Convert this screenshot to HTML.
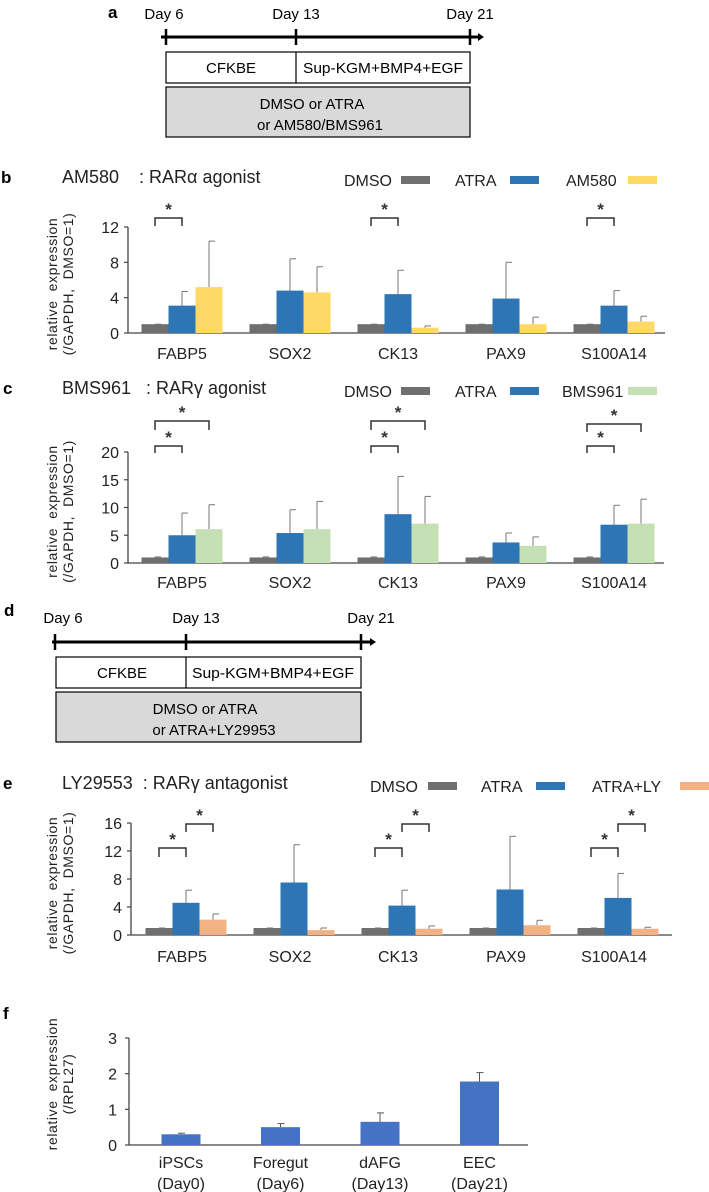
<!DOCTYPE html>
<html><head><meta charset="utf-8"><style>
html,body{margin:0;padding:0;background:#fff;}
svg{display:block;font-family:"Liberation Sans",sans-serif;}
text{white-space:pre;}
</style></head><body>
<svg id="fig" width="709" height="1192" viewBox="0 0 709 1192" xmlns="http://www.w3.org/2000/svg">
<!-- Panel a -->
<g>
<text x="108" y="18" font-size="17" font-weight="bold">a</text>
<text x="164" y="19" font-size="15" text-anchor="middle">Day 6</text>
<text x="296" y="19" font-size="15" text-anchor="middle">Day 13</text>
<text x="470" y="19" font-size="15" text-anchor="middle">Day 21</text>
<line x1="161" y1="37" x2="478" y2="37" stroke="#000" stroke-width="3"/>
<polygon points="478,33 484,37 478,41" fill="#000"/>
<line x1="166" y1="29" x2="166" y2="45" stroke="#000" stroke-width="2.5"/>
<line x1="296" y1="29" x2="296" y2="45" stroke="#000" stroke-width="2.5"/>
<line x1="470" y1="29" x2="470" y2="45" stroke="#000" stroke-width="2.5"/>
<rect x="166" y="52" width="304" height="31" fill="#fff" stroke="#000" stroke-width="1.2"/>
<line x1="296" y1="52" x2="296" y2="83" stroke="#000" stroke-width="1.2"/>
<text x="231" y="73" font-size="15" text-anchor="middle">CFKBE</text>
<text x="383" y="73" font-size="15" text-anchor="middle" textLength="160" lengthAdjust="spacingAndGlyphs">Sup-KGM+BMP4+EGF</text>
<rect x="166" y="87" width="304" height="50" fill="#d9d9d9" stroke="#000" stroke-width="1.2"/>
<text x="312" y="109" font-size="15" text-anchor="middle">DMSO or ATRA</text>
<text x="320" y="130" font-size="15" text-anchor="middle">or AM580/BMS961</text>
</g>
<!-- Panel d -->
<g>
<text x="4" y="616" font-size="17" font-weight="bold">d</text>
<text x="63" y="623" font-size="15" text-anchor="middle">Day 6</text>
<text x="196" y="623" font-size="15" text-anchor="middle">Day 13</text>
<text x="371" y="623" font-size="15" text-anchor="middle">Day 21</text>
<line x1="52" y1="642" x2="370" y2="642" stroke="#000" stroke-width="3"/>
<polygon points="370,638 376,642 370,646" fill="#000"/>
<line x1="55" y1="634" x2="55" y2="650" stroke="#000" stroke-width="2.5"/>
<line x1="186" y1="634" x2="186" y2="650" stroke="#000" stroke-width="2.5"/>
<line x1="361" y1="634" x2="361" y2="650" stroke="#000" stroke-width="2.5"/>
<rect x="56" y="657" width="305" height="31" fill="#fff" stroke="#000" stroke-width="1.2"/>
<line x1="186" y1="657" x2="186" y2="688" stroke="#000" stroke-width="1.2"/>
<text x="122" y="678" font-size="15" text-anchor="middle">CFKBE</text>
<text x="273" y="678" font-size="15" text-anchor="middle" textLength="162" lengthAdjust="spacingAndGlyphs">Sup-KGM+BMP4+EGF</text>
<rect x="56" y="692" width="305" height="50" fill="#d9d9d9" stroke="#000" stroke-width="1.2"/>
<text x="205" y="714" font-size="15" text-anchor="middle">DMSO or ATRA</text>
<text x="214" y="735" font-size="15" text-anchor="middle">or ATRA+LY29953</text>
</g>
<g id="charts"></g>
</svg>
<script>
// ---- Chart data ----
const genes = ["FABP5","SOX2","CK13","PAX9","S100A14"];
// Panel b
const bDMSO = [1,1,1,1,1];
const bDMSOErr = [1,1,1,1,1];
const bATRA = [3.1,4.8,4.4,3.9,3.1];
const bATRAErr = [4.7,8.4,7.1,8.0,4.8];
const bAM580 = [5.2,4.6,0.6,1.0,1.3];
const bAM580Err = [10.4,7.5,0.8,1.8,1.9];
const bTicks = [0,4,8,12];
// Panel c
const cDMSO = [1,1,1,1,1];
const cDMSOErr = [1.1,1.1,1.1,1.1,1.1];
const cATRA = [5.0,5.4,8.8,3.7,6.9];
const cATRAErr = [9.0,9.6,15.6,5.4,10.4];
const cBMS = [6.1,6.1,7.1,3.1,7.1];
const cBMSErr = [10.5,11.1,12.0,4.7,11.5];
const cTicks = [0,5,10,15,20];
// Panel e
const eDMSO = [1,1,1,1,1];
const eDMSOErr = [1,1,1,1,1];
const eATRA = [4.6,7.5,4.2,6.5,5.3];
const eATRAErr = [6.4,12.9,6.4,14.1,8.8];
const eLY = [2.2,0.7,0.9,1.4,0.9];
const eLYErr = [3.0,1.0,1.3,2.1,1.1];
const eTicks = [0,4,8,12,16];
// Panel f
const fCats = ["iPSCs","Foregut","dAFG","EEC"];
const fSub = ["(Day0)","(Day6)","(Day13)","(Day21)"];
const fVals = [0.3,0.5,0.65,1.78];
const fErr = [0.33,0.6,0.9,2.03];
const fTicks = [0,1,2,3];

const NS="http://www.w3.org/2000/svg";
const root=document.getElementById('charts');
function el(tag,attrs,parent){const e=document.createElementNS(NS,tag);for(const k in attrs)e.setAttribute(k,attrs[k]);(parent||root).appendChild(e);return e;}
function txt(s,attrs,parent){const t=el('text',attrs,parent);t.textContent=s;return t;}

function ylabel(g,cx,cy,l1,l2){
  const t1=txt(l1,{x:0,y:0,'font-size':14,'letter-spacing':'0.6','text-anchor':'middle',transform:`translate(${cx-8},${cy}) rotate(-90)`,fill:'#222'},g);
  
  
  const t2=txt(l2,{x:0,y:0,'font-size':14,'letter-spacing':'0.6','text-anchor':'middle',transform:`translate(${cx+8},${cy}) rotate(-90)`,fill:'#222'},g);
  
  
}

function grouped(cfg){
  const g=el('g',{});
  
  
  const ymax=cfg.ticks[cfg.ticks.length-1];
  const y=v=>cfg.y0-(v/ymax)*(cfg.y0-cfg.yTop);
  const gx=i=>cfg.cx0+i*108;
  const bw=27;
  const bx=(i,s)=>gx(i)+(s-1.5)*bw;
  txt(cfg.letter,{x:cfg.letterX,y:cfg.titleY,'font-size':17,'font-weight':'bold'},g);
  const tt=txt(cfg.title,{x:62,y:cfg.titleY,'font-size':18,fill:'#222'},g);
  
  
  cfg.series.forEach((s,k)=>{
    const lt=txt(s.name,{x:cfg.legX[k],y:cfg.titleY+3,'font-size':16,fill:'#222'},g);
    
    
    el('rect',{x:cfg.legSw[k],y:cfg.titleY-7,width:29,height:8,fill:s.color},g);
  });
  el('line',{x1:cfg.axX,y1:cfg.yTop,x2:cfg.axX,y2:cfg.y0,stroke:'#444','stroke-width':1.3},g);
  el('line',{x1:cfg.axX,y1:cfg.y0,x2:cfg.axR,y2:cfg.y0,stroke:'#444','stroke-width':1.3},g);
  cfg.ticks.forEach(t=>{
    el('line',{x1:cfg.axX-4,y1:y(t),x2:cfg.axX,y2:y(t),stroke:'#444','stroke-width':1.2},g);
    const tl=txt(String(t),{x:cfg.axX-9,y:y(t)+6,'font-size':16,'text-anchor':'end',fill:'#222'},g);
    
    
  });
  ylabel(g,65,(cfg.yTop+cfg.y0)/2+4,'relative  expression','(/GAPDH,  DMSO=1)');
  genes.forEach((gn,i)=>{
    cfg.series.forEach((s,k)=>{
      const v=s.vals[i], e=s.err[i];
      const cx=bx(i,k)+bw/2;
      el('line',{x1:cx,y1:y(e),x2:cx,y2:y(v),stroke:'#777','stroke-width':1},g);
      el('line',{x1:cx,y1:y(e),x2:cx+6,y2:y(e),stroke:'#777','stroke-width':1},g);
      const r=el('rect',{x:bx(i,k),y:y(v),width:bw,height:cfg.y0-y(v),fill:s.color},g);
      
      
    });
    const xl=txt(gn,{x:gx(i)-(cfg.lblShift||0),y:cfg.labelY,'font-size':16,'text-anchor':'middle',fill:'#222'},g);
    
    
  });
  cfg.brackets.forEach(b=>{
    const [gi,s1,s2,by,legs]=b;
    const x1=bx(gi,s1)+bw/2, x2=bx(gi,s2)+bw/2;
    el('polyline',{points:`${x1},${by+legs} ${x1},${by} ${x2},${by} ${x2},${by+legs}`,fill:'none',stroke:'#333','stroke-width':1.5},g);
    const st=txt('*',{x:(x1+x2)/2,y:by-3,'font-size':17,'text-anchor':'middle','font-weight':'bold',fill:'#333'},g);
    
    
  });
}

grouped({name:'chart-b-am580',letter:'b',letterX:1,title:'AM580    : RARα agonist',titleY:183,
  legX:[344,455,566],legSw:[401,510,628],
  axX:128,axR:665,yTop:227,y0:333,cx0:182,labelY:359,ticks:bTicks,
  series:[{name:'DMSO',color:'#6f6f6f',vals:bDMSO,err:bDMSOErr},{name:'ATRA',color:'#2e75b6',vals:bATRA,err:bATRAErr},{name:'AM580',color:'#ffd966',vals:bAM580,err:bAM580Err}],
  brackets:[[0,0,1,218,8],[2,0,1,218,8],[4,0,1,218,8]]});
grouped({name:'chart-c-bms961',letter:'c',letterX:3,title:'BMS961   : RARγ agonist',titleY:394,
  legX:[344,455,562],legSw:[401,510,628],
  axX:128,axR:664,yTop:452,y0:563,cx0:182,labelY:588,ticks:cTicks,
  series:[{name:'DMSO',color:'#6f6f6f',vals:cDMSO,err:cDMSOErr},{name:'ATRA',color:'#2e75b6',vals:cATRA,err:cATRAErr},{name:'BMS961',color:'#c5e0b4',vals:cBMS,err:cBMSErr}],
  brackets:[[0,0,1,446,7],[0,0,2,421,9],[2,0,1,446,7],[2,0,2,421,9],[4,0,1,446,7],[4,0,2,424,8]]});
grouped({name:'chart-e-ly29553',letter:'e',letterX:3,title:'LY29553  : RARγ antagonist',titleY:789,
  legX:[370,481,592],legSw:[428,536,680],
  axX:131,axR:672,yTop:823,y0:935,cx0:186,labelY:962,lblShift:4,ticks:eTicks,
  series:[{name:'DMSO',color:'#6f6f6f',vals:eDMSO,err:eDMSOErr},{name:'ATRA',color:'#2e75b6',vals:eATRA,err:eATRAErr},{name:'ATRA+LY',color:'#f4b183',vals:eLY,err:eLYErr}],
  brackets:[[0,0,1,848,9],[0,1,2,824,8],[2,0,1,848,9],[2,1,2,824,8],[4,0,1,848,9],[4,1,2,824,8]]});

(function(){
  const g=el('g',{});
  
  
  const y0=1145,yTop=1038,axX=129,axR=528;
  const ymax=fTicks[fTicks.length-1];
  const y=v=>y0-(v/ymax)*(y0-yTop);
  const cx=i=>181+i*99.5;
  const bw=39;
  txt('f',{x:3,y:1019,'font-size':17,'font-weight':'bold'},g);
  el('line',{x1:axX,y1:yTop,x2:axX,y2:y0,stroke:'#444','stroke-width':1.3},g);
  el('line',{x1:axX,y1:y0,x2:axR,y2:y0,stroke:'#444','stroke-width':1.3},g);
  fTicks.forEach(t=>{
    el('line',{x1:axX-4,y1:y(t),x2:axX,y2:y(t),stroke:'#444','stroke-width':1.2},g);
    const tl=txt(String(t),{x:axX-12,y:y(t)+6,'font-size':16,'text-anchor':'end',fill:'#222'},g);
    
    
  });
  ylabel(g,65,1084,'relative  expression','(/RPL27)');
  fCats.forEach((c,i)=>{
    const x=cx(i);
    el('line',{x1:x,y1:y(fErr[i]),x2:x,y2:y(fVals[i]),stroke:'#555','stroke-width':1},g);
    el('line',{x1:x-3,y1:y(fErr[i]),x2:x+4,y2:y(fErr[i]),stroke:'#555','stroke-width':1},g);
    const r=el('rect',{x:x-bw/2,y:y(fVals[i]),width:bw,height:y0-y(fVals[i]),fill:'#4472c4'},g);
    
    
    const l1=txt(c,{x:x,y:1168,'font-size':16,'text-anchor':'middle',fill:'#222'},g);
    
    
    const l2=txt(fSub[i],{x:x,y:1189,'font-size':16,'text-anchor':'middle',fill:'#222'},g);
    
    
  });
})();
</script>
</body></html>
